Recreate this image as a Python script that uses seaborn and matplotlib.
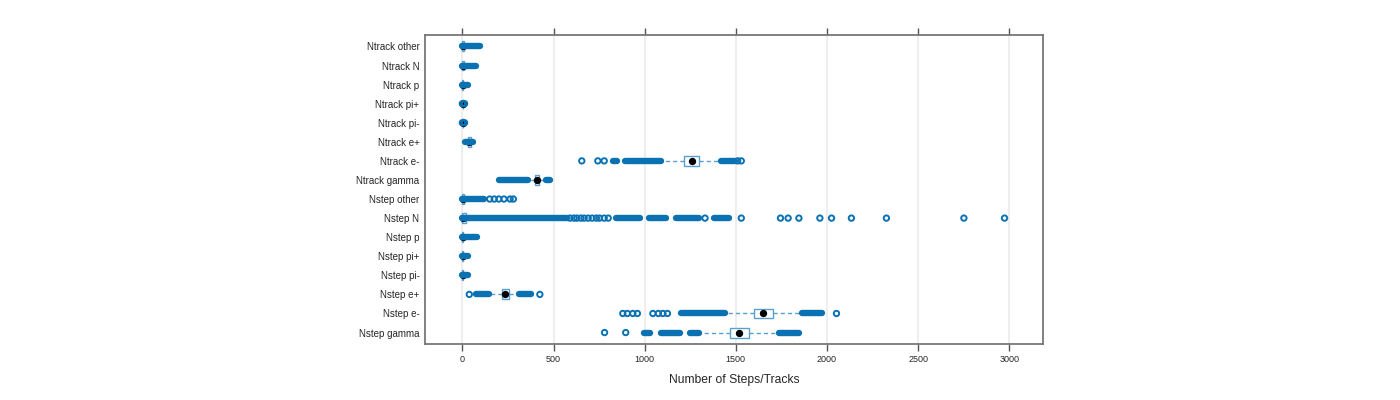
import matplotlib
matplotlib.use("Agg")
import matplotlib.pyplot as plt
import seaborn as sns
import pandas as pd

# ==============================
# Data
# ==============================
categories = ["Ntrack other", "Ntrack N", "Ntrack p", "Ntrack pi+", "Ntrack pi-",
              "Ntrack e+", "Ntrack e-", "Ntrack gamma",
              "Nstep other", "Nstep N", "Nstep p", "Nstep pi+", "Nstep pi-",
              "Nstep e+", "Nstep e-", "Nstep gamma"]

# box summary: whisker low, q1, median, q3, whisker high
whis_lo = [0, 0, 0, 0, 0, 20, 1105, 365, 0, 0, 0, 0, 0, 150, 1450, 1310]
q1 = [0, 0, 0, 2, 2, 30, 1216, 396, 0, 0, 0, 0, 0, 217, 1600, 1468]
median = [3, 2, 1, 4, 4, 38, 1258, 409, 2, 5, 1, 1, 1, 235, 1649, 1517]
q3 = [10, 8, 5, 6, 6, 45, 1298, 421, 10, 20, 6, 4, 4, 257, 1703, 1572]
whis_hi = [20, 18, 12, 10, 10, 58, 1407, 445, 30, 40, 15, 8, 8, 300, 1851, 1725]

# dense runs of outliers (start, end)
outlier_runs = {
    "Ntrack other": [(0, 95)],
    "Ntrack N": [(0, 75)],
    "Ntrack p": [(0, 33)],
    "Ntrack pi+": [],
    "Ntrack pi-": [],
    "Ntrack e+": [(12, 58)],
    "Ntrack e-": [(827, 850), (890, 1090), (1420, 1495)],
    "Ntrack gamma": [(203, 358), (456, 483)],
    "Nstep other": [(0, 120)],
    "Nstep N": [(0, 575), (840, 975), (1025, 1115), (1170, 1300), (1380, 1465)],
    "Nstep p": [(0, 80)],
    "Nstep pi+": [(0, 30)],
    "Nstep pi-": [(0, 30)],
    "Nstep e+": [(76, 145), (312, 378)],
    "Nstep e-": [(1197, 1438), (1865, 1975)],
    "Nstep gamma": [(997, 1030), (1087, 1196), (1246, 1300), (1737, 1846)],
}

# single outliers
outlier_points = {
    "Ntrack pi+": [0, 12],
    "Ntrack pi-": [0, 12],
    "Ntrack e-": [655, 743, 778, 1510, 1530],
    "Nstep other": [150, 175, 200, 228, 262, 280],
    "Nstep N": [590, 612, 628, 650, 668, 690, 712, 735, 752, 778, 800, 1331,
                1530, 1745, 1787, 1846, 1961, 2025, 2134, 2326, 2751, 2974],
    "Nstep e+": [38, 425],
    "Nstep e-": [880, 905, 935, 960, 1045, 1075, 1100, 1125, 2052],
    "Nstep gamma": [780, 896],
}

x_ticks = [0, 500, 1000, 1500, 2000, 2500, 3000]

# ==============================
# Styling
# ==============================
sns.set_theme(style="white")
plt.rcParams["font.family"] = ["Liberation Sans", "DejaVu Sans"]

point_col = "#0A72B2"
box_col = "#5A9FD0"

fig = plt.figure(figsize=(14, 4), dpi=100)
ax = fig.add_axes([425 / 1400, 1 - 344 / 400, 618 / 1400, 309 / 400])

ypos = list(range(len(categories)))

# grid
for t in x_ticks:
    ax.axvline(t, color="#ebebeb", lw=1.2, zorder=0)

# boxes and whiskers
stats = []
for i, c in enumerate(categories):
    stats.append({"whislo": whis_lo[i], "q1": q1[i], "med": median[i],
                  "q3": q3[i], "whishi": whis_hi[i], "label": c})
ax.bxp(stats, positions=ypos, vert=False, widths=0.52, showfliers=False,
       showcaps=False, patch_artist=True,
       boxprops=dict(facecolor="white", edgecolor=box_col, lw=1.0),
       whiskerprops=dict(color=box_col, lw=1.0, linestyle=(0, (3, 2.2))),
       medianprops=dict(lw=0), zorder=2)

# median dots
med_df = pd.DataFrame({"value": median, "pos": ypos})
sns.scatterplot(data=med_df, x="value", y="pos", ax=ax, color="black",
                s=28, linewidth=0, zorder=3, legend=False)

# dense outlier runs
for i, c in enumerate(categories):
    for a, b in outlier_runs[c]:
        ax.hlines(i, a, b, color=point_col, lw=4.6, capstyle="round", zorder=4)

# single outliers
rows = []
for i, c in enumerate(categories):
    for v in outlier_points.get(c, []):
        rows.append({"value": v, "pos": i})
pts = pd.DataFrame(rows)
sns.scatterplot(data=pts, x="value", y="pos", ax=ax, marker="o",
                facecolor="none", edgecolor=point_col, s=15, linewidth=1.4,
                zorder=5, legend=False)

# axes
ax.set_xlim(-205, 3185)
ax.set_ylim(len(categories) - 0.4, -0.6)
ax.set_yticks(ypos)
ax.set_yticklabels(categories, fontsize=7)
ax.set_xticks(x_ticks)
ax.set_xticklabels([str(t) for t in x_ticks], fontsize=6.5)
ax.tick_params(axis="x", which="both", top=True, bottom=True, direction="out",
               length=5, width=1, color="#555555", pad=3)
ax.tick_params(axis="y", left=False, length=0, pad=4)
ax.set_xlabel("Number of Steps/Tracks", fontsize=8.7, labelpad=7)
ax.set_ylabel("")
for s in ax.spines.values():
    s.set_color("#777777")
    s.set_linewidth(1.3)

fig.savefig("out.png", dpi=100)
